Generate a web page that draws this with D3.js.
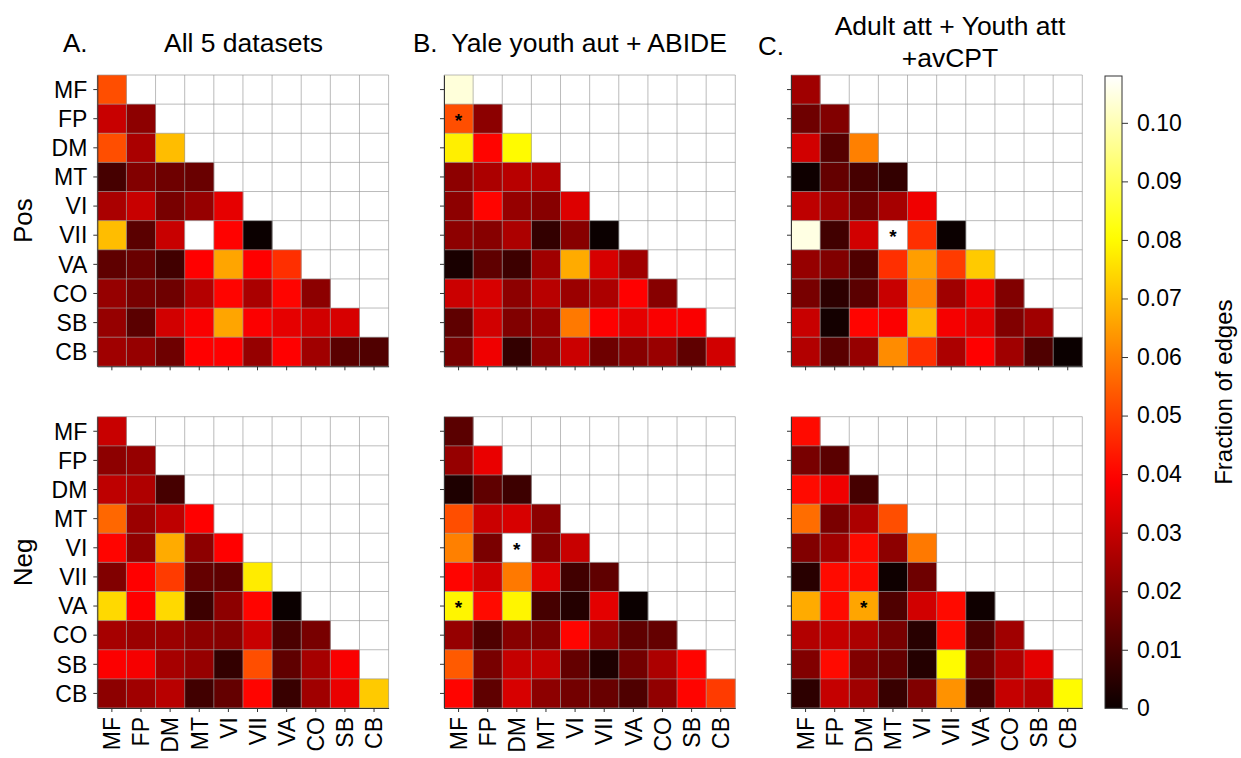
<!DOCTYPE html>
<html>
<head>
<meta charset="utf-8">
<script src="https://cdn.jsdelivr.net/npm/d3@7"></script>
<style>
  html, body { margin: 0; padding: 0; background: #fff; }
  svg { display: block; font-family: "Liberation Sans", Arial, Helvetica, sans-serif; }
</style>
</head>
<body>
<svg id="chart" width="1241" height="758"></svg>
<script>
// ---------------- data ----------------
const regions = ["MF", "FP", "DM", "MT", "VI", "VII", "VA", "CO", "SB", "CB"];
const rowLabels = ["Pos", "Neg"];
const panelLetters = ["A.", "B.", "C."];
const panelTitles = [["All 5 datasets"], ["Yale youth aut + ABIDE"], ["Adult att + Youth att", "+avCPT"]];
const colorbarTicks = [0, 0.01, 0.02, 0.03, 0.04, 0.05, 0.06, 0.07, 0.08, 0.09, 0.10];
const colorMax = 0.108;

// lower-triangular matrices (row i has i+1 values: columns MF..row region)
const posAll = [
  [0.052],
  [0.0305, 0.021],
  [0.052, 0.0257, 0.070],
  [0.0096, 0.0193, 0.016, 0.0152],
  [0.0257, 0.0305, 0.0176, 0.0225, 0.0354],
  [0.070, 0.0128, 0.0305, 0.110, 0.0397, 0.0],
  [0.0136, 0.0152, 0.0088, 0.0394, 0.066, 0.0394, 0.047],
  [0.0225, 0.0176, 0.016, 0.0273, 0.040, 0.0257, 0.040, 0.0209],
  [0.0225, 0.0128, 0.032, 0.0386, 0.066, 0.039, 0.0354, 0.032, 0.033],
  [0.024, 0.0225, 0.016, 0.0394, 0.0394, 0.0225, 0.0394, 0.024, 0.0128, 0.0112]
];
const posYale = [
  [0.104],
  [0.052, 0.0209],
  [0.078, 0.040, 0.080],
  [0.021, 0.026, 0.028, 0.0273],
  [0.021, 0.040, 0.0225, 0.020, 0.034],
  [0.021, 0.020, 0.026, 0.0064, 0.020, 0.0],
  [0.0023, 0.0136, 0.008, 0.024, 0.067, 0.033, 0.024],
  [0.031, 0.033, 0.021, 0.028, 0.0233, 0.026, 0.0394, 0.020],
  [0.0136, 0.032, 0.019, 0.0225, 0.059, 0.0394, 0.0354, 0.0386, 0.0386],
  [0.0176, 0.037, 0.0064, 0.021, 0.031, 0.016, 0.020, 0.023, 0.0136, 0.032]
];
const posAdult = [
  [0.024],
  [0.016, 0.019],
  [0.032, 0.012, 0.060],
  [0.0007, 0.0144, 0.0096, 0.0064],
  [0.029, 0.024, 0.016, 0.025, 0.037],
  [0.105, 0.0088, 0.032, 0.110, 0.047, 0.0],
  [0.0225, 0.019, 0.011, 0.047, 0.065, 0.049, 0.072],
  [0.0176, 0.0055, 0.0128, 0.0305, 0.061, 0.024, 0.037, 0.019],
  [0.0305, 0.0015, 0.040, 0.039, 0.069, 0.038, 0.035, 0.019, 0.024],
  [0.027, 0.0128, 0.0225, 0.062, 0.047, 0.026, 0.0394, 0.024, 0.011, 0.0]
];
const negAll = [
  [0.0305],
  [0.021, 0.0225],
  [0.029, 0.0265, 0.0096],
  [0.056, 0.0233, 0.029, 0.0394],
  [0.040, 0.0217, 0.067, 0.021, 0.0394],
  [0.019, 0.0394, 0.049, 0.0144, 0.0136, 0.0775],
  [0.0745, 0.0394, 0.0745, 0.008, 0.021, 0.040, 0.0],
  [0.025, 0.0233, 0.0233, 0.021, 0.020, 0.0305, 0.0104, 0.0176],
  [0.039, 0.038, 0.025, 0.0225, 0.0064, 0.052, 0.0136, 0.025, 0.0386],
  [0.021, 0.024, 0.028, 0.0088, 0.0144, 0.040, 0.0072, 0.024, 0.036, 0.072]
];
const negYale = [
  [0.0128],
  [0.0225, 0.036],
  [0.003, 0.0136, 0.008],
  [0.052, 0.031, 0.033, 0.021],
  [0.060, 0.018, 0.110, 0.019, 0.0305],
  [0.040, 0.032, 0.059, 0.0345, 0.0088, 0.0136],
  [0.079, 0.041, 0.079, 0.0096, 0.004, 0.035, 0.0],
  [0.0225, 0.011, 0.020, 0.019, 0.040, 0.0225, 0.0136, 0.0144],
  [0.054, 0.0176, 0.030, 0.030, 0.0144, 0.003, 0.0168, 0.026, 0.040],
  [0.040, 0.0136, 0.033, 0.021, 0.0168, 0.015, 0.011, 0.0217, 0.040, 0.049]
];
const negAdult = [
  [0.041],
  [0.0176, 0.0128],
  [0.041, 0.037, 0.0096],
  [0.057, 0.018, 0.026, 0.052],
  [0.019, 0.024, 0.041, 0.021, 0.059],
  [0.0047, 0.041, 0.041, 0.0007, 0.016, 0.110],
  [0.067, 0.041, 0.066, 0.011, 0.032, 0.041, 0.0007],
  [0.027, 0.030, 0.026, 0.0176, 0.0047, 0.041, 0.011, 0.024],
  [0.019, 0.041, 0.019, 0.0144, 0.004, 0.080, 0.016, 0.0265, 0.035],
  [0.0055, 0.030, 0.024, 0.0072, 0.019, 0.063, 0.0096, 0.030, 0.028, 0.080]
];
// significance markers: [row region, column region]
const starsPosYale = [["FP", "MF"]];
const starsPosAdult = [["VII", "MT"]];
const starsNegYale = [["VI", "DM"], ["VA", "MF"]];
const starsNegAdult = [["VA", "DM"]];

const panels = [
  { row: 0, col: 0, data: posAll, stars: [] },
  { row: 0, col: 1, data: posYale, stars: starsPosYale },
  { row: 0, col: 2, data: posAdult, stars: starsPosAdult },
  { row: 1, col: 0, data: negAll, stars: [] },
  { row: 1, col: 1, data: negYale, stars: starsNegYale },
  { row: 1, col: 2, data: negAdult, stars: starsNegAdult }
];

// ---------------- layout ----------------
const svg = d3.select("#chart");
const panelLeft = [97.3, 444, 791];
const panelTop = [75, 416.7];
const size = 291.3;

// matplotlib "hot" colormap
const color = d3.scaleLinear()
  .domain([0, 0.365079 * colorMax, 0.746032 * colorMax, colorMax])
  .range(["rgb(11,0,0)", "rgb(255,0,0)", "rgb(255,255,0)", "rgb(255,255,255)"])
  .clamp(true);

const x = d3.scaleBand().domain(regions).range([0, size]);
const y = d3.scaleBand().domain(regions).range([0, size]);

panels.forEach(p => {
  const g = svg.append("g").attr("transform", `translate(${panelLeft[p.col]},${panelTop[p.row]})`);
  const cells = [];
  p.data.forEach((rowVals, i) => rowVals.forEach((v, j) => cells.push({ r: regions[i], c: regions[j], v })));

  g.selectAll("rect.cell").data(cells).enter().append("rect")
    .attr("class", "cell")
    .attr("x", d => x(d.c))
    .attr("y", d => y(d.r))
    .attr("width", x.bandwidth() + 0.3)
    .attr("height", y.bandwidth() + 0.3)
    .attr("fill", d => color(d.v));

  // grid
  const gridPos = d3.range(regions.length + 1).map(k => k * x.step());
  g.selectAll("line.gv").data(gridPos).enter().append("line")
    .attr("x1", d => d).attr("x2", d => d).attr("y1", 0).attr("y2", size)
    .attr("stroke", "#9a9a9a").attr("stroke-width", 0.9).attr("stroke-opacity", 0.75);
  g.selectAll("line.gh").data(gridPos).enter().append("line")
    .attr("y1", d => d).attr("y2", d => d).attr("x1", 0).attr("x2", size)
    .attr("stroke", "#9a9a9a").attr("stroke-width", 0.9).attr("stroke-opacity", 0.75);

  // stars
  g.selectAll("text.star").data(p.stars).enter().append("text")
    .attr("x", d => x(d[1]) + x.bandwidth() / 2)
    .attr("y", d => y(d[0]) + y.bandwidth() / 2 + 8)
    .attr("text-anchor", "middle")
    .attr("font-size", 19)
    .attr("font-weight", "bold")
    .attr("fill", "#000")
    .text("*");

  // left axis
  const ay = g.append("g").call(d3.axisLeft(y).tickSize(4).tickSizeOuter(0)
    .tickFormat(p.col === 0 ? (d => d) : () => ""));
  ay.select(".domain").attr("stroke", "#333");
  ay.selectAll(".tick line").attr("stroke", "#333");
  ay.selectAll("text").attr("font-size", 23).attr("fill", "#000")
    .attr("font-family", "Liberation Sans, Arial, sans-serif").attr("dx", -3).attr("dy", "0.36em");

  // bottom axis
  const ax = g.append("g").attr("transform", `translate(0,${size})`)
    .call(d3.axisBottom(x).tickSize(4).tickSizeOuter(0)
      .tickFormat(p.row === 1 ? (d => d) : () => ""));
  ax.select(".domain").attr("stroke", "#333");
  ax.selectAll(".tick line").attr("stroke", "#333");
  ax.selectAll("text").attr("font-size", 23).attr("fill", "#000")
    .attr("font-family", "Liberation Sans, Arial, sans-serif")
    .attr("transform", "rotate(-90)")
    .attr("text-anchor", "end")
    .attr("x", -9).attr("y", 0).attr("dy", "0.36em");
});

// titles
const titleCenters = [243.5, 589, 950];
const letterX = [63, 413, 758];
const letterY = [52, 52, 55];
panelLetters.forEach((t, k) => {
  svg.append("text").attr("x", letterX[k]).attr("y", letterY[k])
    .attr("font-size", 26).attr("fill", "#000").text(t);
});
panelTitles.forEach((lines, k) => {
  const baseY = lines.length === 1 ? [52] : [35, 67];
  lines.forEach((line, li) => {
    svg.append("text").attr("x", titleCenters[k]).attr("y", baseY[li])
      .attr("text-anchor", "middle").attr("font-size", 26.5).attr("fill", "#000").text(line);
  });
});

// row labels
rowLabels.forEach((t, k) => {
  svg.append("text")
    .attr("transform", `translate(32,${panelTop[k] + size / 2}) rotate(-90)`)
    .attr("text-anchor", "middle").attr("font-size", 26).attr("fill", "#000").text(t);
});

// colorbar
const cbX = 1105, cbW = 17, cbTop = 76, cbBottom = 708.3;
const cbScale = d3.scaleLinear().domain([0, colorMax]).range([cbBottom, cbTop]);
const defs = svg.append("defs");
const grad = defs.append("linearGradient").attr("id", "cbgrad")
  .attr("x1", 0).attr("y1", 1).attr("x2", 0).attr("y2", 0);
d3.range(0, 1.0001, 0.02).forEach(f => {
  grad.append("stop").attr("offset", f).attr("stop-color", color(f * colorMax));
});
svg.append("rect").attr("x", cbX).attr("y", cbTop).attr("width", cbW).attr("height", cbBottom - cbTop)
  .attr("fill", "url(#cbgrad)").attr("stroke", "#333").attr("stroke-width", 1);
const cbAxis = svg.append("g").attr("transform", `translate(${cbX + cbW},0)`)
  .call(d3.axisRight(cbScale).tickValues(colorbarTicks).tickSize(6).tickSizeOuter(0)
    .tickFormat(d => d === 0 ? "0" : d3.format(".2f")(d)));
cbAxis.select(".domain").remove();
cbAxis.selectAll(".tick line").attr("stroke", "#333");
cbAxis.selectAll("text").attr("font-size", 23).attr("fill", "#000")
  .attr("font-family", "Liberation Sans, Arial, sans-serif").attr("x", 15);

svg.append("text")
  .attr("transform", `translate(1232,${(cbTop + cbBottom) / 2}) rotate(-90)`)
  .attr("text-anchor", "middle").attr("font-size", 24).attr("fill", "#000").text("Fraction of edges");
</script>
</body>
</html>
